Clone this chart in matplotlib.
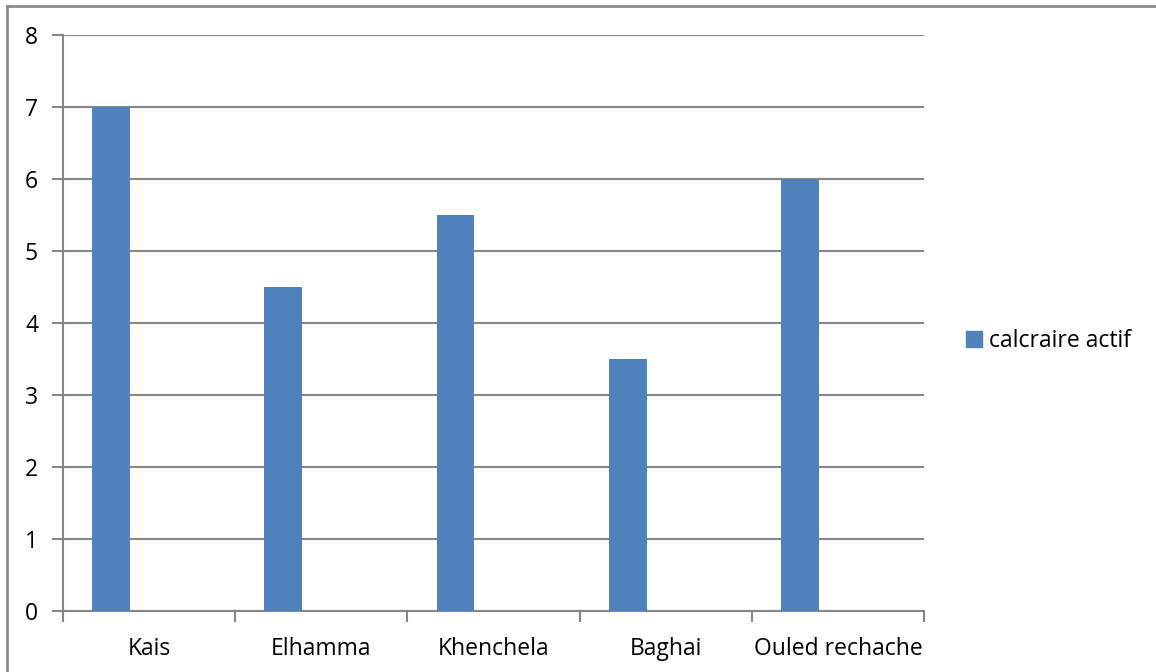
import matplotlib
matplotlib.use("Agg")
import matplotlib.pyplot as plt
from matplotlib.lines import Line2D
from matplotlib.patches import Patch

categories = ["Kais", "Elhamma", "Khenchela", "Baghai", "Ouled rechache"]
values = [7, 4.5, 5.5, 3.5, 6]
series_name = "calcraire actif"

W, H = 1156, 672
fig = plt.figure(figsize=(W / 100, H / 100), dpi=100)
plt.rcParams['font.family'] = ['Open Sans', 'DejaVu Sans']
FS = 16.5

ax = fig.add_axes([63 / W, (H - 611) / H, (924 - 63) / W, (611 - 35) / H])
bar_color = "#4F81BD"
grid_color = "#868686"

xs = [i + 0.279 for i in range(len(categories))]
ax.bar(xs, values, width=0.22, color=bar_color, zorder=3)

ax.set_xlim(0, len(categories))
ax.set_ylim(0, 8)
ax.set_yticks(range(0, 9))
ax.yaxis.grid(True, color=grid_color, linewidth=1.5, zorder=0)

ax.set_xticks([i for i in range(len(categories) + 1)])
ax.set_xticklabels([])
ax.set_xticks([i + 0.5 for i in range(len(categories))], minor=True)
ax.set_xticklabels(categories, minor=True, fontsize=FS)
ax.tick_params(axis='x', which='minor', length=0, pad=19)
ax.tick_params(axis='x', which='major', length=8, width=1.5, color=grid_color, direction='out')
ax.tick_params(axis='y', length=8, width=1.5, color=grid_color, direction='out', labelsize=FS, pad=10)

for s in ['top', 'right']:
    ax.spines[s].set_visible(False)
for s in ['left', 'bottom']:
    ax.spines[s].set_color(grid_color)
    ax.spines[s].set_linewidth(1.5)

leg = fig.legend(handles=[Patch(color=bar_color, label=series_name)],
                 loc='center left', bbox_to_anchor=(966 / W, 1 - 341 / H),
                 frameon=False, fontsize=FS, handlelength=0.7, handleheight=0.7,
                 handletextpad=0.3, borderaxespad=0, borderpad=0)

fig.add_artist(Line2D([7 / W, 1], [1 - 6 / H, 1 - 6 / H], color="#8c8c8c", linewidth=2, transform=fig.transFigure))
fig.add_artist(Line2D([7 / W, 7 / W], [0, 1 - 6 / H], color="#8c8c8c", linewidth=2, transform=fig.transFigure))

fig.savefig("out.png", dpi=100)
